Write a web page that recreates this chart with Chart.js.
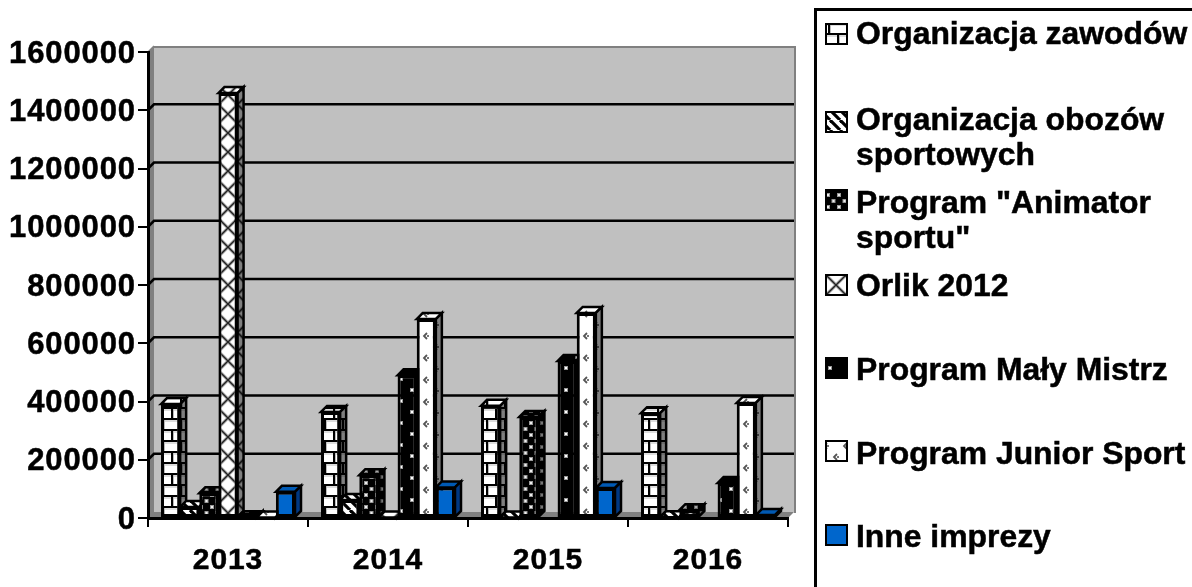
<!DOCTYPE html>
<html><head><meta charset="utf-8">
<style>html,body{margin:0;padding:0;background:#fff;overflow:hidden}canvas{display:block}</style>
<script src="https://cdn.jsdelivr.net/npm/chart.js@4"></script></head>
<body><canvas id="c" width="1192" height="587" style="width:1192px;height:587px"></canvas>
<script>
const years = ['2013','2014','2015','2016'];
const seriesNames = ['Organizacja zawodów','Organizacja obozów sportowych','Program "Animator sportu"','Orlik 2012','Program Mały Mistrz','Program Junior Sport','Inne imprezy'];
const zawody   = [391000,364000,385000,360000];
const obozy    = [38000,62000,2000,3000];
const animator = [85000,147000,347000,27000];
const orlik    = [1459000,1500,null,null];
const malyMistrz = [3000,490000,539000,120000];
const juniorSport = [2000,683000,704000,395000];
const inne     = [90000,105000,103000,10000];
const yTicks = [0,200000,400000,600000,800000,1000000,1200000,1400000,1600000];
const legendLines = [['Organizacja zawodów'],['Organizacja obozów','sportowych'],['Program "Animator','sportu"'],['Orlik 2012'],['Program Mały Mistrz'],['Program Junior Sport'],['Inne imprezy']];
const legendBaselines = [[44],[130,165],[213,248],[296],[380],[464],[547]];
const legendSwatchTop = [24,112,190,275,358,441,525];

const FONT = '"Liberation Sans", Arial, sans-serif';
const DX = 6, DY = 6;

function tile(w,h,fn){const c=document.createElement('canvas');c.width=w;c.height=h;fn(c.getContext('2d'),w,h);return c.getContext('2d').createPattern(c,'repeat');}
function rect(g,x,y,w,h,col){g.fillStyle=col;g.fillRect(x,y,w,h);}
const pats = [
 tile(18,22,(g,w,h)=>{rect(g,0,0,w,h,'#fff');
   rect(g,0,0,w,2,'#000');rect(g,0,11,w,2,'#000');
   rect(g,0,2,w,2,'#ddd');rect(g,0,13,w,2,'#ddd');
   rect(g,0,0,2,11,'#000');rect(g,9,11,2,11,'#000');
   rect(g,2,2,1,9,'#bbb');rect(g,11,13,1,9,'#bbb');}),
 tile(10,10,(g,w,h)=>{rect(g,0,0,w,h,'#fff');g.strokeStyle='#000';g.lineWidth=3.2;
   for(let i=-10;i<=20;i+=10){g.beginPath();g.moveTo(i,0);g.lineTo(i+10,10);g.stroke();}}),
 tile(11,12,(g,w,h)=>{rect(g,0,0,w,h,'#000');
   [[2,2],[7.5,8]].forEach(p=>{g.fillStyle='#999';g.fillRect(p[0]-1,p[1]-1,4,4);g.fillStyle='#eee';g.fillRect(p[0],p[1],2,2);});}),
 tile(19,19,(g,w,h)=>{rect(g,0,0,w,h,'#fff');g.strokeStyle='#bbb';g.lineWidth=3.4;
   g.beginPath();g.moveTo(0,0);g.lineTo(19,19);g.moveTo(19,0);g.lineTo(0,19);g.stroke();
   g.strokeStyle='#222';g.lineWidth=1.5;g.stroke();}),
 tile(22,22,(g,w,h)=>{rect(g,0,0,w,h,'#000');
   [[4,4],[15,15]].forEach(p=>{g.fillStyle='#999';g.fillRect(p[0]-1,p[1]-1,4,4);g.fillStyle='#fff';g.fillRect(p[0],p[1],2,2);});}),
 tile(20,22,(g,w,h)=>{rect(g,0,0,w,h,'#fff');g.strokeStyle='#555';g.lineWidth=1.8;
   [[4,3],[14,14]].forEach(p=>{g.beginPath();g.moveTo(p[0]+3,p[1]);g.lineTo(p[0],p[1]+3);g.lineTo(p[0]+3,p[1]+6);g.stroke();g.fillStyle='#777';g.fillRect(p[0]+3,p[1]+2,2,2);});}),
 '#0066CC'
];
const values = [zawody,obozy,animator,orlik,malyMistrz,juniorSport,inne];
const datasets = values.map((d,i)=>({label:seriesNames[i],data:d,backgroundColor:pats[i],borderColor:'#000',borderWidth:3,borderSkipped:false,categoryPercentage:0.8375,barPercentage:1}));

const backdrop = {id:'backdrop',
 beforeDraw(ch){const c=ch.ctx,a=ch.chartArea,y=ch.scales.y;c.save();
   c.fillStyle='#C0C0C0';c.fillRect(a.left+DX,a.top-DY,a.right-a.left,a.bottom-a.top);
   c.fillStyle='#808080';
   c.beginPath();c.moveTo(a.left,a.top);c.lineTo(a.left+DX,a.top-DY);c.lineTo(a.left+DX,a.bottom-DY);c.lineTo(a.left,a.bottom);c.fill();
   c.beginPath();c.moveTo(a.left,a.bottom);c.lineTo(a.left+DX,a.bottom-DY);c.lineTo(a.right+DX,a.bottom-DY);c.lineTo(a.right,a.bottom);c.fill();
   c.fillRect(a.left+DX,a.top-DY,a.right-a.left+2,2);
   c.fillRect(a.right+DX,a.top-DY,2,a.bottom-a.top+1);
   c.strokeStyle='#000';c.lineWidth=2.5;
   y.ticks.forEach(t=>{const p=y.getPixelForValue(t.value);
     if(t.value!==0&&t.value!==yTicks[yTicks.length-1]){c.beginPath();c.moveTo(a.left,p);c.lineTo(a.left+DX,p-DY);c.lineTo(a.right+DX,p-DY);c.stroke();}
     else{c.lineWidth=1.5;c.beginPath();c.moveTo(a.left,p);c.lineTo(a.left+DX,p-DY);c.strokeStyle='#808080';c.stroke();c.strokeStyle='#000';c.lineWidth=2.5;}
   });
   c.restore();
   ch.ctx.letterSpacing='0.9px';
 },
 beforeDatasetsDraw(ch){const c=ch.ctx;c.save();c.letterSpacing='0px';c.lineWidth=2.5;c.strokeStyle='#000';c.lineJoin='miter';
   ch.data.datasets.forEach((ds,i)=>{ch.getDatasetMeta(i).data.forEach((b,k)=>{
     if(ds.data[k]===null)return;
     const w=b.width/2, L=b.x-w, R=b.x+w, T=b.y, B=b.base;
     c.beginPath();c.moveTo(L,T);c.lineTo(L+DX,T-DY);c.lineTo(R+DX,T-DY);c.lineTo(R,T);c.closePath();
     c.fillStyle=ds.backgroundColor;c.fill();
     if(i===6){c.fillStyle='#0059B3';c.fill();}
     else if(i===2||i===4){c.fillStyle='rgba(0,0,0,0.3)';c.fill();}
     c.stroke();
     c.beginPath();c.moveTo(R,T);c.lineTo(R+DX,T-DY);c.lineTo(R+DX,B-DY);c.lineTo(R,B);c.closePath();
     c.fillStyle=ds.backgroundColor;c.fill();
     c.fillStyle=i===6?'rgba(0,0,40,0.45)':'rgba(0,0,0,0.5)';c.fill();
     c.stroke();
   });});
   c.restore();
 },
 afterDraw(ch){const c=ch.ctx;c.save();c.letterSpacing='0px';
   c.strokeStyle='#000';c.lineWidth=3;c.beginPath();c.moveTo(815.5,587);c.lineTo(815.5,9.5);c.lineTo(1192,9.5);c.stroke();
   ch.data.datasets.forEach((ds,i)=>{
     const top=legendSwatchTop[i];
     c.fillStyle=ds.backgroundColor;c.fillRect(826,top,21,20);
     c.strokeStyle='#000';c.lineWidth=2;c.strokeRect(826,top,21,20);
     c.fillStyle='#000';c.strokeStyle='#000';c.lineWidth=0.5;c.font='bold 30.5px '+FONT;c.textBaseline='alphabetic';c.textAlign='left';
     legendLines[i].forEach((t,j)=>{c.save();c.translate(856,legendBaselines[i][j]);c.scale(1.045,1);c.fillText(t,0,0);c.strokeText(t,0,0);c.restore();});
   });
   c.restore();
 }
};

new Chart(document.getElementById('c'),{
 type:'bar',
 data:{labels:years,datasets},
 plugins:[backdrop],
 options:{responsive:false,animation:false,devicePixelRatio:1,
  layout:{padding:{top:52,right:404,left:0,bottom:0}},
  plugins:{legend:{display:false},title:{display:false},tooltip:{enabled:false}},
  scales:{
   x:{offset:true,afterFit(s){s.height=69;},
      grid:{drawOnChartArea:false,drawTicks:true,tickLength:9,color:'#000',lineWidth:2,offset:true},
      border:{color:'#000',width:3},
      ticks:{color:'#000',font:{family:FONT,weight:'bold',size:30},textStrokeColor:'#000',textStrokeWidth:0.5,padding:16,maxRotation:0}},
   y:{min:0,max:1600000,afterFit(s){s.width=148;},
      afterBuildTicks(s){s.ticks=yTicks.map(v=>({value:v}));},
      grid:{drawOnChartArea:false,drawTicks:true,tickLength:10,color:'#000',lineWidth:2},
      border:{color:'#000',width:3},
      ticks:{color:'#000',font:{family:FONT,weight:'bold',size:31},textStrokeColor:'#000',textStrokeWidth:0.5,padding:2,labelOffset:2,callback:v=>String(v)}}
  }
 }
});
</script></body></html>
